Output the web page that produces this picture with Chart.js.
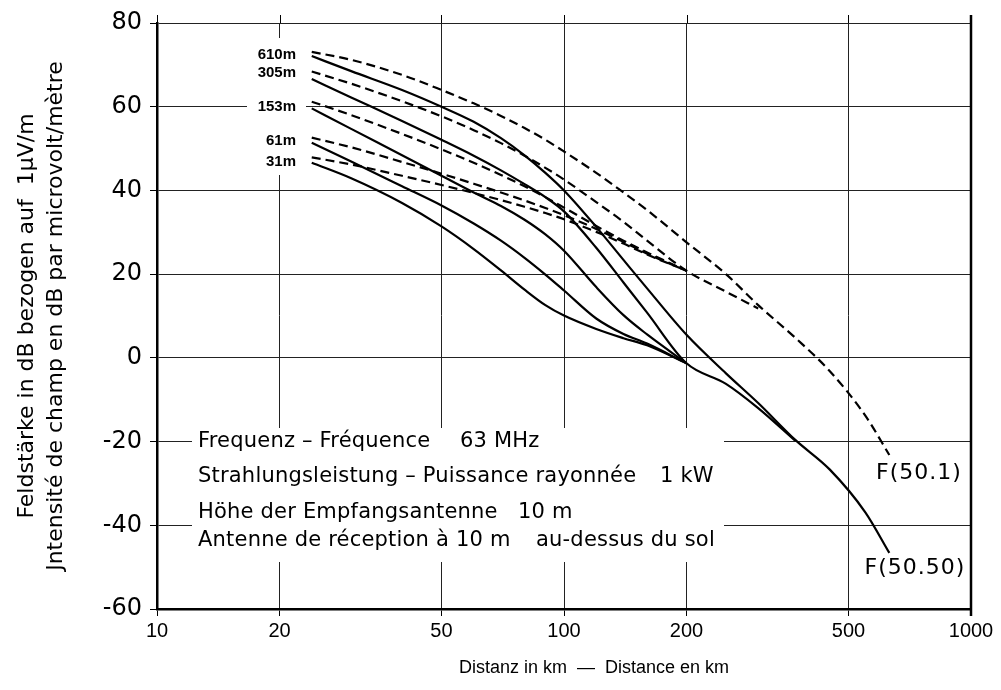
<!DOCTYPE html>
<html>
<head>
<meta charset="utf-8">
<script src="https://cdn.jsdelivr.net/npm/chart.js@4"></script>
<style>
  html, body { margin: 0; padding: 0; background: #fff; }
</style>
</head>
<body>
<canvas id="chart" width="1001" height="690"></canvas>
<script>
// Entfernung (km)
const dist = [24, 30, 40, 50, 60, 70, 80, 90, 100, 120, 140, 160, 200, 250, 300, 370, 450, 550, 630];

// F(50,50) - durchgezogen
const solid610 = [72.1, 68.5, 64, 60, 56.4, 52.5, 48.4, 44.2, 40.0, 31.3, 23.4, 16.6, 5.5, -3.7, -10.8, -19.6, -26.7, -36.9, -46.6];
const solid305 = [66.6, 62.2, 56.6, 52.1, 48.3, 44.8, 41.5, 38.4, 35.0, 26.3, 18.0, 10.8, -1.3, -6.2, -12.0, -19.8, null, null, null];
const solid153 = [59.6, 54.7, 48.4, 43.5, 39.5, 36.3, 33.0, 29.5, 25.6, 16.9, 10.2, 5.6, -1.3, null, null, null, null, null, null];
const solid61  = [51.4, 46.9, 41.0, 36.4, 32.1, 28.0, 23.9, 19.9, 16.1, 9.4, 5.7, 3.4, -1.3, null, null, null, null, null, null];
const solid31  = [46.6, 42.9, 37.0, 31.4, 26.0, 20.9, 16.3, 12.6, 10.1, 6.9, 4.7, 3.0, -1.3, null, null, null, null, null, null];

// F(50,1) - gestrichelt
const dash610 = [73.1, 71.2, 67.6, 64.0, 60.8, 57.8, 54.9, 52.1, 49.3, 44.2, 39.5, 35.3, 27.6, 20.0, 12.6, 4.8, -3.2, -13.8, -23.2];
const dash305 = [68.4, 65.5, 61.3, 57.7, 54.4, 51.3, 48.3, 45.4, 42.6, 37.2, 32.5, 28.0, 20.8, 15.8, 11.8, null, null, null, null];
const dash153 = [61.2, 58.0, 53.5, 49.8, 46.6, 43.7, 41.0, 38.4, 35.9, 31.5, 28.0, 25.2, 20.8, null, null, null, null, null, null];
const dash61  = [52.6, 50.3, 46.8, 44.0, 41.6, 39.5, 37.6, 35.8, 34.1, 30.8, 27.7, 24.9, 20.8, null, null, null, null, null, null];
const dash31  = [47.9, 46.2, 43.5, 41.3, 39.4, 37.7, 36.1, 34.6, 33.1, 30.1, 27.3, 24.7, 20.8, null, null, null, null, null, null];

const heights = ['610m', '305m', '153m', '61m', '31m'];
const xTicks = [10, 20, 50, 100, 200, 500, 1000];

const yTitle = ['Feldstärke in dB bezogen auf  1µV/m', 'Jntensité de champ en dB par microvolt/mètre'];
const xTitle = 'Distanz in km  —  Distance en km';

//Punkte bauen
function pts(values){
    return dist.map((d, i) => ({x: d, y: values[i]}));
}
function curve(label, values, dashed){
    return {
        label: label,
        data: pts(values),
        borderColor: '#000',
        borderWidth: 2.2,
        borderDash: dashed ? [9, 5] : [],
        pointRadius: 0,
        cubicInterpolationMode: 'monotone',
        spanGaps: false
    };
}

//Beschriftung im Diagramm
const annotate = {
    id: 'annotate',
    beforeDatasetsDraw(chart){
        const ctx = chart.ctx;
        ctx.save();
        ctx.fillStyle = '#fff';
        ctx.fillRect(192, 428, 532, 134);  // Textblock
        ctx.fillRect(247, 38, 59, 137);    // Höhenangaben
        ctx.fillStyle = '#000';
        ctx.textBaseline = 'middle';
        ctx.textAlign = 'left';
        ctx.font = '21px "DejaVu Sans"';
        ctx.letterSpacing = '0.2px';
        ctx.fillText('Frequenz – Fréquence', 198, 442);
        ctx.fillText('63 MHz', 460, 442);
        ctx.fillText('Strahlungsleistung – Puissance rayonnée', 198, 477);
        ctx.fillText('1 kW', 660, 477);
        ctx.fillText('Höhe der Empfangsantenne', 198, 513);
        ctx.fillText('10 m', 518, 513);
        ctx.fillText('Antenne de réception à 10 m', 198, 541);
        ctx.fillText('au-dessus du sol', 536, 541);
        ctx.letterSpacing = '0px';

        ctx.textAlign = 'right';
        ctx.font = 'bold 15px "Liberation Sans"';
        const ys = [55, 73, 107, 141, 162];
        heights.forEach((h, i) => ctx.fillText(h, 296, ys[i]));
        ctx.restore();
    },
    afterDraw(chart){
        const {ctx, chartArea: a} = chart;
        const xs = chart.scales.x;
        ctx.save();
        ctx.strokeStyle = '#000';
        ctx.lineWidth = 1;
        xTicks.forEach(v => {
            const px = Math.round(xs.getPixelForValue(v)) + 0.5;
            ctx.beginPath();
            ctx.moveTo(px, a.top - 8);
            ctx.lineTo(px, a.top);
            ctx.stroke();
        });
        ctx.lineWidth = 2.5;
        ctx.beginPath();
        ctx.moveTo(a.right, a.top - 8);
        ctx.lineTo(a.right, a.bottom + 7);
        ctx.stroke();

        ctx.fillStyle = '#000';
        ctx.textBaseline = 'middle';
        ctx.textAlign = 'center';
        ctx.font = '22px "DejaVu Sans"';
        ctx.letterSpacing = '1px';
        ctx.fillText('F(50.1)', 919, 473);
        ctx.fillText('F(50.50)', 915, 568);
        ctx.letterSpacing = '0px';
        ctx.font = '18px "Liberation Sans"';
        ctx.fillText(xTitle, 594, 668);
        ctx.restore();
    }
};

const gridOpts = {color: '#222', lineWidth: 1, tickLength: 7, tickColor: '#000'};

window.addEventListener('DOMContentLoaded', () => {
    const ctx = document.getElementById('chart').getContext('2d');
    new Chart(ctx, {
        type: 'line',
        data: {
            datasets: [
                curve('610 m F(50,50)', solid610, false),
                curve('305 m F(50,50)', solid305, false),
                curve('153 m F(50,50)', solid153, false),
                curve('61 m F(50,50)', solid61, false),
                curve('31 m F(50,50)', solid31, false),
                curve('610 m F(50,1)', dash610, true),
                curve('305 m F(50,1)', dash305, true),
                curve('153 m F(50,1)', dash153, true),
                curve('61 m F(50,1)', dash61, true),
                curve('31 m F(50,1)', dash31, true)
            ]
        },
        options: {
            responsive: false,
            animation: false,
            events: [],
            layout: {padding: {left: 0, right: 30, top: 23, bottom: 0}},
            plugins: {
                legend: {display: false},
                tooltip: {enabled: false}
            },
            scales: {
                x: {
                    type: 'logarithmic',
                    min: 10,
                    max: 1000,
                    afterBuildTicks: s => { s.ticks = xTicks.map(v => ({value: v})); },
                    afterFit: s => { s.height = 81; },
                    ticks: {
                        autoSkip: false,
                        maxRotation: 0,
                        padding: 3,
                        color: '#000',
                        font: {family: '"Liberation Sans"', size: 20},
                        callback: v => String(v)
                    },
                    grid: gridOpts,
                    border: {color: '#000', width: 2.5}
                },
                y: {
                    min: -60,
                    max: 80,
                    afterFit: s => { s.width = 157; },
                    ticks: {
                        stepSize: 20,
                        padding: 8,
                        color: '#000',
                        font: {family: '"DejaVu Sans"', size: 24},
                        callback: v => String(v)
                    },
                    grid: gridOpts,
                    border: {color: '#000', width: 2.5},
                    title: {
                        display: true,
                        text: yTitle,
                        color: '#000',
                        font: {family: '"DejaVu Sans"', size: 22, lineHeight: 1.32},
                        padding: {top: 13, bottom: 0}
                    }
                }
            }
        },
        plugins: [annotate]
    });
});
</script>
</body>
</html>
